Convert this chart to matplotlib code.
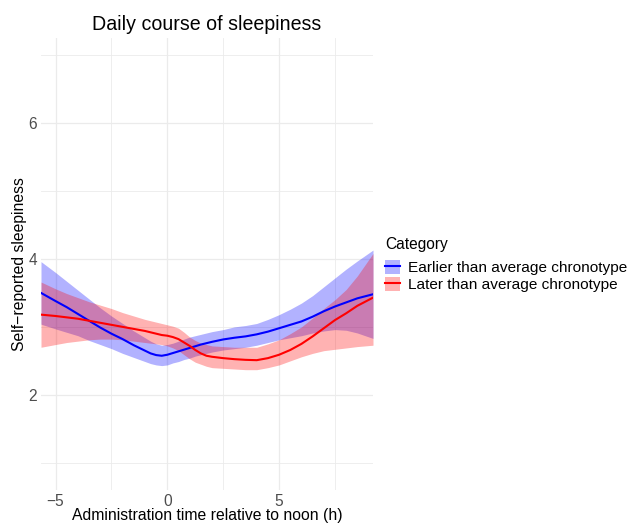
import matplotlib
matplotlib.use('Agg')
import matplotlib.pyplot as plt
from matplotlib.patches import Patch
from matplotlib.lines import Line2D

plt.rcParams['font.family'] = ['Liberation Sans', 'DejaVu Sans']

# smoothed curves (x in hours relative to noon)
hours = [-5.65, -5, -4.5, -4, -3.5, -3, -2.5, -2, -1.5, -1, -0.75, -0.5, -0.25, 0,
         0.25, 0.5, 0.75, 1, 1.25, 1.5, 1.75, 2, 2.5, 3, 3.5, 4, 4.5, 5, 5.5, 6,
         6.5, 7, 7.5, 8, 8.5, 9.2]

early_fit = [3.50, 3.38, 3.29, 3.19, 3.09, 2.99, 2.90, 2.82, 2.73, 2.65, 2.61, 2.585,
             2.575, 2.59, 2.615, 2.64, 2.665, 2.69, 2.715, 2.74, 2.76, 2.78, 2.815, 2.84,
             2.86, 2.89, 2.93, 2.98, 3.03, 3.08, 3.15, 3.23, 3.30, 3.36, 3.42, 3.48]
early_hi = [3.96, 3.80, 3.67, 3.54, 3.41, 3.28, 3.16, 3.05, 2.94, 2.84, 2.79, 2.75,
            2.73, 2.74, 2.76, 2.79, 2.82, 2.85, 2.87, 2.89, 2.91, 2.93, 2.96, 3.00,
            3.02, 3.05, 3.11, 3.18, 3.26, 3.35, 3.46, 3.59, 3.72, 3.85, 3.97, 4.13]
early_lo = [3.04, 2.97, 2.92, 2.87, 2.80, 2.74, 2.68, 2.61, 2.55, 2.49, 2.46, 2.44,
            2.43, 2.44, 2.47, 2.49, 2.52, 2.54, 2.57, 2.59, 2.61, 2.63, 2.66, 2.68,
            2.70, 2.73, 2.77, 2.81, 2.84, 2.87, 2.91, 2.94, 2.96, 2.95, 2.91, 2.83]

late_fit = [3.18, 3.16, 3.14, 3.12, 3.09, 3.06, 3.03, 3.00, 2.97, 2.94, 2.92, 2.90,
            2.88, 2.87, 2.85, 2.82, 2.77, 2.72, 2.66, 2.61, 2.575, 2.56, 2.54, 2.525,
            2.515, 2.51, 2.54, 2.59, 2.66, 2.75, 2.86, 2.98, 3.10, 3.20, 3.31, 3.43]
late_hi = [3.66, 3.56, 3.49, 3.43, 3.37, 3.32, 3.27, 3.21, 3.16, 3.11, 3.09, 3.07,
           3.05, 3.03, 3.01, 2.98, 2.92, 2.85, 2.80, 2.76, 2.74, 2.72, 2.71, 2.70,
           2.70, 2.70, 2.75, 2.81, 2.90, 3.00, 3.13, 3.27, 3.40, 3.55, 3.75, 4.08]
late_lo = [2.70, 2.74, 2.77, 2.79, 2.81, 2.82, 2.82, 2.81, 2.79, 2.77, 2.76, 2.75,
           2.74, 2.72, 2.69, 2.65, 2.59, 2.53, 2.48, 2.45, 2.42, 2.40, 2.39, 2.38,
           2.37, 2.37, 2.40, 2.44, 2.50, 2.56, 2.61, 2.65, 2.67, 2.69, 2.71, 2.73]

labels = ['Earlier than average chronotype', 'Later than average chronotype']

fig = plt.figure(figsize=(6.3, 5.23), dpi=100)
ax = fig.add_axes([41/630, 33/523, 332/630, 452/523])

ax.fill_between(hours, early_lo, early_hi, color='blue', alpha=0.3, lw=0)
ax.fill_between(hours, late_lo, late_hi, color='red', alpha=0.3, lw=0)
ax.plot(hours, early_fit, c='blue', lw=1.5)
ax.plot(hours, late_fit, c='red', lw=1.5)

ax.set_xlim(-5.65, 9.2)
ax.set_ylim(0.6, 7.25)
ax.set_xticks([-5, 0, 5])
ax.set_xticklabels(['\u22125', '0', '5'])
ax.set_xticks([-2.5, 2.5, 7.5], minor=True)
ax.set_yticks([2, 4, 6])
ax.set_yticks([1, 3, 5, 7], minor=True)
ax.grid(which='major', color='#ebebeb', lw=0.9)
ax.grid(which='minor', color='#ebebeb', lw=0.6)
ax.set_axisbelow(True)
for s in ax.spines.values():
    s.set_visible(False)
ax.tick_params(which='both', length=0, labelsize=11.2, labelcolor='#4d4d4d', pad=3)

ax.set_title('Daily course of sleepiness', fontsize=14.1, pad=6)
ax.set_xlabel('Administration time relative to noon (h)', fontsize=11.3, labelpad=-1)
ax.set_ylabel('Self\u2212reported sleepiness', fontsize=11.3, labelpad=1)

# legend (title as separate text so spacing matches)
fig.text(385/630, 1 - 244/523, 'Category', fontsize=11.2, va='center', ha='left')
handles = [(Patch(fc='blue', alpha=0.3, lw=0), Line2D([], [], c='blue', lw=1.5)),
           (Patch(fc='red', alpha=0.3, lw=0), Line2D([], [], c='red', lw=1.5))]
leg = fig.legend(handles, labels, loc='upper left', bbox_to_anchor=(385/630, 1 - 260/523),
                 frameon=False, fontsize=11.1, borderpad=0, borderaxespad=0,
                 handlelength=0.95, handleheight=1.05, handletextpad=0.55,
                 labelspacing=0.08)

fig.savefig('out.png', dpi=100)
